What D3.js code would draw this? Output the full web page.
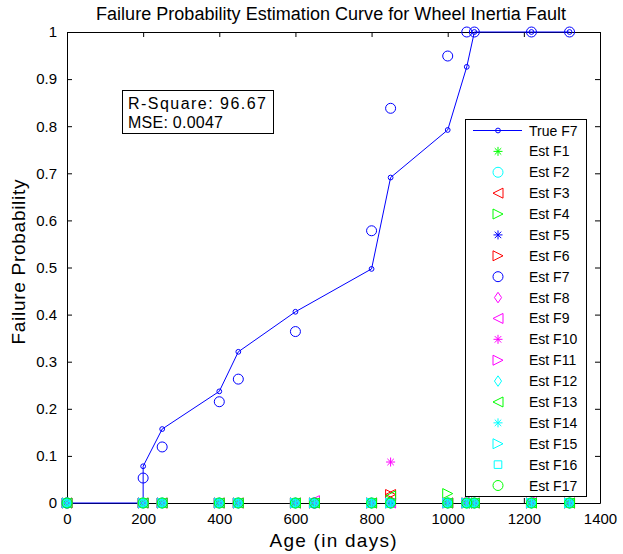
<!DOCTYPE html>
<html>
<head>
<meta charset="utf-8">
<script src="https://cdn.jsdelivr.net/npm/d3@7"></script>
<style>
  html, body { margin: 0; padding: 0; background: #ffffff; }
  svg { display: block; font-family: Arial, "Liberation Sans", Helvetica, sans-serif; }
</style>
</head>
<body>
<svg id="chart" width="623" height="554"></svg>
<script>
// Inspection ages (days) at which every estimate is reported
const ages = [0, 200, 250, 400, 450, 600, 650, 800, 850, 1000, 1050, 1070, 1220, 1320];

// True failure probability curve for fault F7
const trueAges = [0, 200, 200, 250, 400, 450, 600, 800, 850, 1000, 1050, 1070, 1220, 1320];
const trueF7 = [0, 0, 0.078, 0.157, 0.237, 0.321, 0.406, 0.497, 0.691, 0.792, 0.926, 1.0, 1.0, 1.0];

// Estimated failure probability for each fault class, one value per age
const estF1  = [0, 0, 0, 0, 0, 0, 0, 0, 0, 0, 0, 0, 0, 0];
const estF2  = [0, 0, 0, 0, 0, 0, 0, 0, 0, 0, 0, 0, 0, 0];
const estF3  = [0, 0, 0, 0, 0, 0, 0, 0, 0.018, 0, 0, 0, 0, 0];
const estF4  = [0, 0, 0, 0, 0, 0, 0, 0, 0, 0.020, 0, 0, 0, 0];
const estF5  = [0, 0, 0, 0, 0, 0, 0, 0, 0, 0, 0, 0, 0, 0];
const estF6  = [0, 0, 0, 0, 0, 0, 0, 0, 0.018, 0, 0, 0, 0, 0];
const estF7  = [0, 0.053, 0.119, 0.215, 0.263, 0.364, 0, 0.578, 0.838, 0.949, 1.0, 1.0, 1.0, 1.0];
const estF8  = [0, 0, 0, 0, 0, 0, 0, 0, 0, 0, 0.006, 0, 0, 0];
const estF9  = [0, 0, 0, 0, 0, 0, 0.005, 0, 0, 0, 0, 0, 0.004, 0];
const estF10 = [0, 0, 0, 0, 0, 0, 0, 0, 0.087, 0, 0, 0, 0, 0];
const estF11 = [0, 0, 0, 0, 0, 0, 0, 0, 0, 0, 0, 0, 0, 0];
const estF12 = [0, 0, 0, 0, 0, 0, 0, 0, 0, 0, 0, 0, 0, 0];
const estF13 = [0, 0, 0, 0, 0, 0, 0, 0, 0.015, 0, 0, 0, 0, 0];
const estF14 = [0, 0, 0, 0, 0, 0, 0, 0, 0, 0, 0, 0, 0, 0];
const estF15 = [0, 0, 0, 0, 0, 0, 0, 0, 0, 0, 0, 0, 0, 0];
const estF16 = [0, 0, 0, 0, 0, 0, 0, 0, 0, 0, 0, 0, 0, 0];
const estF17 = [0, 0, 0, 0, 0, 0, 0, 0, 0, 0, 0, 0, 0, 0];

const estNames   = ["Est F1","Est F2","Est F3","Est F4","Est F5","Est F6","Est F7","Est F8","Est F9",
                    "Est F10","Est F11","Est F12","Est F13","Est F14","Est F15","Est F16","Est F17"];
const estValues  = [estF1, estF2, estF3, estF4, estF5, estF6, estF7, estF8, estF9,
                    estF10, estF11, estF12, estF13, estF14, estF15, estF16, estF17];
const estColors  = ["#00ff00","#00ffff","#ff0000","#00ff00","#0000ff","#ff0000","#0000ff","#ff00ff","#ff00ff",
                    "#ff00ff","#ff00ff","#00ffff","#00ff00","#00ffff","#00ffff","#00ffff","#00ff00"];
const estMarkers = ["star","circle","left","right","star","right","circle","diamond","left",
                    "star","right","diamond","left","star","right","square","circle"];

const xTicks = [0, 200, 400, 600, 800, 1000, 1200, 1400];
const yTicks = [0, 0.1, 0.2, 0.3, 0.4, 0.5, 0.6, 0.7, 0.8, 0.9, 1];

const titleText = "Failure Probability Estimation Curve for Wheel Inertia Fault";
const xLabel = "Age (in days)";
const yLabel = "Failure Probability";
const statsLines = ["R-Square: 96.67", "MSE: 0.0047"];

// ---- layout ----
const svg = d3.select("#chart");
const plot = { left: 67, right: 600, top: 32, bottom: 503 };

const x = d3.scaleLinear().domain([0, 1400]).range([plot.left, plot.right]);
const y = d3.scaleLinear().domain([0, 1]).range([plot.bottom, plot.top]);

// marker sizes (half-extent in px) per marker kind
const markerSize = { circle: 5, square: 3.8, diamond: 4.2, left: 5, right: 5, star: 4.5 };

// marker path builder, centred on (0,0)
function markerPath(kind, r) {
  const p = d3.path();
  switch (kind) {
    case "circle":
      p.moveTo(r, 0); p.arc(0, 0, r, 0, 2 * Math.PI); break;
    case "square":
      p.rect(-r, -r, 2 * r, 2 * r); break;
    case "diamond":
      p.moveTo(0, -r * 1.25); p.lineTo(r * 0.85, 0); p.lineTo(0, r * 1.25); p.lineTo(-r * 0.85, 0); p.closePath(); break;
    case "left":
      p.moveTo(-r, 0); p.lineTo(r, -r); p.lineTo(r, r); p.closePath(); break;
    case "right":
      p.moveTo(r, 0); p.lineTo(-r, -r); p.lineTo(-r, r); p.closePath(); break;
    case "star": {
      const d = r * 0.72;
      p.moveTo(-r, 0); p.lineTo(r, 0);
      p.moveTo(0, -r); p.lineTo(0, r);
      p.moveTo(-d, -d); p.lineTo(d, d);
      p.moveTo(-d, d); p.lineTo(d, -d);
      break;
    }
  }
  return p.toString();
}

// ---- axes: MATLAB-style box with inward ticks on all four sides ----
const xAxisB = d3.axisBottom(x).tickValues(xTicks).tickSizeInner(-5).tickSizeOuter(0).tickPadding(10)
  .tickFormat(d3.format("d"));
const xAxisT = d3.axisTop(x).tickValues(xTicks).tickSizeInner(-5).tickSizeOuter(0).tickFormat("");
const yAxisL = d3.axisLeft(y).tickValues(yTicks).tickSizeInner(-5).tickSizeOuter(0).tickPadding(10)
  .tickFormat(d => d === 0 || d === 1 ? String(d) : d3.format(".1f")(d));
const yAxisR = d3.axisRight(y).tickValues(yTicks).tickSizeInner(-5).tickSizeOuter(0).tickFormat("");

function styleAxis(g) {
  g.select(".domain").attr("stroke", "#000").attr("stroke-width", 1);
  g.selectAll(".tick line").attr("stroke", "#000").attr("stroke-width", 1);
  g.selectAll(".tick text").attr("fill", "#000").attr("font-size", 15)
    .attr("font-family", "Arial, 'Liberation Sans', sans-serif");
}

svg.append("g").attr("transform", `translate(0,${plot.bottom})`).call(xAxisB).call(styleAxis);
svg.append("g").attr("transform", `translate(0,${plot.top})`).call(xAxisT).call(styleAxis);
svg.append("g").attr("transform", `translate(${plot.left},0)`).call(yAxisL).call(styleAxis);
svg.append("g").attr("transform", `translate(${plot.right},0)`).call(yAxisR).call(styleAxis);

// ---- data layers ----
const dataG = svg.append("g");

// true curve
const truePts = trueAges.map((a, i) => [a, trueF7[i]]);
dataG.append("path")
  .datum(truePts)
  .attr("fill", "none").attr("stroke", "#0000ff").attr("stroke-width", 1)
  .attr("d", d3.line().x(d => x(d[0])).y(d => y(d[1])));
dataG.selectAll(".trueMark").data(truePts).join("path")
  .attr("class", "trueMark")
  .attr("transform", d => `translate(${x(d[0])},${y(d[1])})`)
  .attr("d", markerPath("circle", 2.4))
  .attr("fill", "none").attr("stroke", "#0000ff").attr("stroke-width", 1);

// estimated series, drawn in order so later faults sit on top
estValues.forEach((vals, k) => {
  dataG.append("g").selectAll("path").data(ages.map((a, i) => [a, vals[i]])).join("path")
    .attr("transform", d => `translate(${x(d[0])},${y(d[1])})`)
    .attr("d", markerPath(estMarkers[k], markerSize[estMarkers[k]]))
    .attr("fill", "none").attr("stroke", estColors[k]).attr("stroke-width", 1);
});

// ---- title and axis labels ----
svg.append("text")
  .attr("x", 331).attr("y", 20)
  .attr("text-anchor", "middle").attr("font-size", 18).attr("fill", "#000")
  .attr("textLength", 470).attr("lengthAdjust", "spacing")
  .text(titleText);
svg.append("text")
  .attr("x", 333).attr("y", 547)
  .attr("text-anchor", "middle").attr("font-size", 19).attr("fill", "#000")
  .attr("textLength", 127).attr("lengthAdjust", "spacing")
  .text(xLabel);
svg.append("text")
  .attr("transform", `translate(25,${262}) rotate(-90)`)
  .attr("text-anchor", "middle").attr("font-size", 19).attr("fill", "#000")
  .attr("textLength", 165).attr("lengthAdjust", "spacing")
  .text(yLabel);

// ---- statistics box ----
const statsG = svg.append("g");
statsG.append("rect")
  .attr("x", 122.5).attr("y", 90.5).attr("width", 151).attr("height", 43)
  .attr("fill", "#ffffff").attr("stroke", "#000").attr("stroke-width", 1);
statsG.selectAll("text").data(statsLines).join("text")
  .attr("x", 128).attr("y", (d, i) => 109 + i * 19)
  .attr("font-size", 16).attr("fill", "#000")
  .attr("textLength", (d, i) => i === 0 ? 138 : 95).attr("lengthAdjust", "spacing")
  .text(d => d);

// ---- legend ----
const legendItems = [{ name: "True F7", color: "#0000ff", marker: "circle", line: true }]
  .concat(estNames.map((n, k) => ({ name: n, color: estColors[k], marker: estMarkers[k], line: false })));

const lg = svg.append("g");
const lgBox = { x: 465.5, y: 119.5, w: 121, h: 377 };
lg.append("rect")
  .attr("x", lgBox.x).attr("y", lgBox.y).attr("width", lgBox.w).attr("height", lgBox.h)
  .attr("fill", "#ffffff").attr("stroke", "#000").attr("stroke-width", 1);

const rowY = d3.scaleLinear().domain([0, legendItems.length - 1]).range([130.5, 485.5]);
const rows = lg.selectAll(".row").data(legendItems).join("g")
  .attr("class", "row")
  .attr("transform", (d, i) => `translate(0,${rowY(i)})`);
rows.filter(d => d.line).append("line")
  .attr("x1", 473).attr("x2", 522).attr("y1", 0).attr("y2", 0)
  .attr("stroke", d => d.color).attr("stroke-width", 1);
rows.append("path")
  .attr("transform", "translate(498,0)")
  .attr("d", d => d.line ? markerPath("circle", 2.4) : markerPath(d.marker, markerSize[d.marker]))
  .attr("fill", "none").attr("stroke", d => d.color).attr("stroke-width", 1);
rows.append("text")
  .attr("x", 529).attr("y", 5)
  .attr("font-size", 14).attr("fill", "#000")
  .text(d => d.name);
</script>
</body>
</html>
